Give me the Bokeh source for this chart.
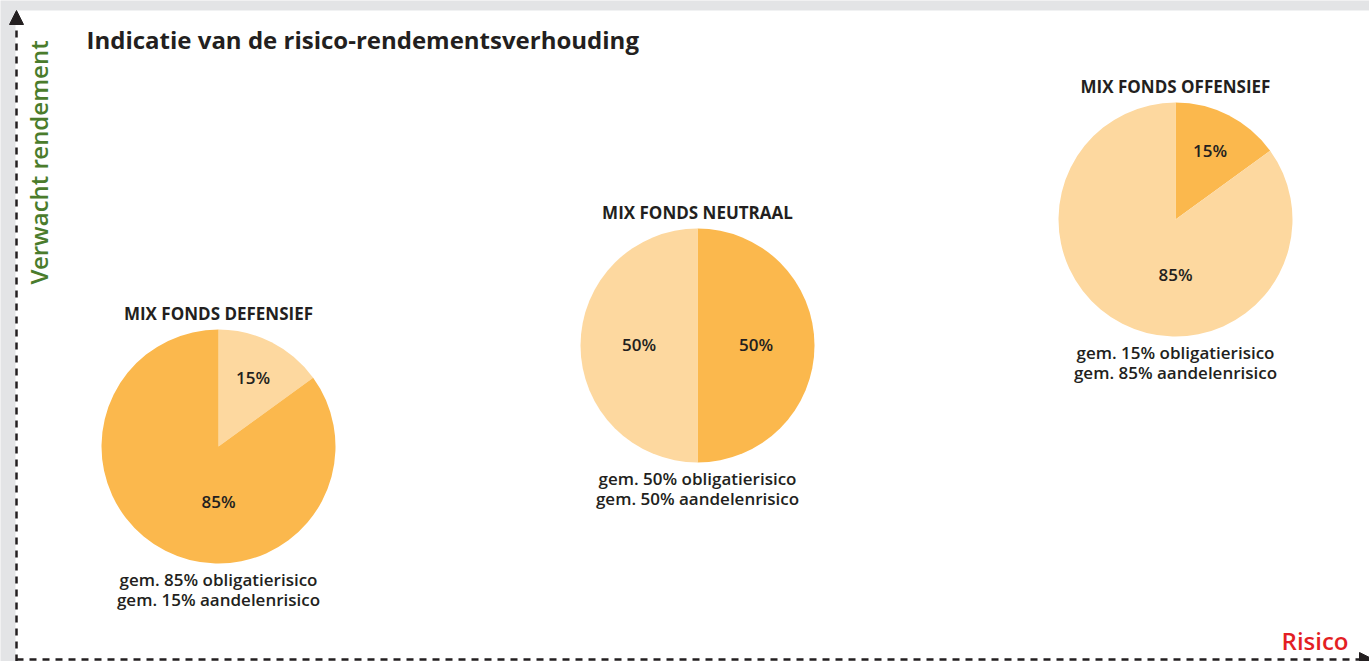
import math
from bokeh.plotting import figure
from bokeh.models import Range1d, Arrow, NormalHead
from bokeh.core.properties import value
from bokeh.embed import file_html
from bokeh.resources import INLINE

# ---- data ----
funds = ["MIX FONDS DEFENSIEF", "MIX FONDS NEUTRAAL", "MIX FONDS OFFENSIEF"]
obligatie = [85, 50, 15]
aandelen = [15, 50, 85]
title = "Indicatie van de risico-rendementsverhouding"
y_label = "Verwacht rendement"
x_label = "Risico"

# ---- layout / style ----
W, H = 1369, 661
SH = 7  # baseline correction for the svg text rendering
def Y(sy):
    return H - sy

centers_x = [218, 697, 1175]
centers_y = [446, 345, 219]
R = 117
C_OBL = "#fbb84d"
C_AAND = "#fdd89f"
TXT = "#231f20"
FONT = value("Open Sans")
FONT_MED = value("Open Sans SemiBold")
GRAY = "#e3e4e6"

p = figure(width=W, height=H, output_backend="svg", toolbar_location=None,
           x_range=Range1d(0, W), y_range=Range1d(0, H),
           min_border=0, background_fill_color=GRAY, border_fill_color=GRAY,
           outline_line_color=None)
p.axis.visible = False
p.grid.visible = False

# white panel
p.quad(left=[15], right=[W], top=[Y(10)], bottom=[0],
       fill_color="white", line_color=None)

for i, name in enumerate(funds):
    cx, cy = centers_x[i], Y(centers_y[i])
    slices = [(obligatie[i], C_OBL), (aandelen[i], C_AAND)]
    if aandelen[i] < obligatie[i]:
        slices = slices[::-1]
    start = math.pi / 2
    for val, col in slices:
        frac = val / 100.0
        end = start - 2 * math.pi * frac
        p.wedge(x=[cx], y=[cy], radius=R, start_angle=[end], end_angle=[start],
                direction="anticlock", fill_color=col, line_color=None)
        mid = (start + end) / 2
        if val > 50:
            mid = -math.pi / 2
            rr = 0.48 * R
        elif val == 50:
            rr = 0.5 * R
        else:
            rr = 0.65 * R
        p.text(x=[cx + rr * math.cos(mid)], y=[cy + rr * math.sin(mid) - 6 + SH],
               text=[f"{val}%"], text_align="center", text_baseline="alphabetic",
               text_font=FONT_MED, text_font_size="17px", text_font_style="normal",
               text_color=TXT)
        start = end
    p.text(x=[cx], y=[cy + R + 9 + SH], text=[name], text_align="center",
           text_baseline="alphabetic", text_font=FONT, text_font_size="17px",
           text_font_style="bold", text_color=TXT)
    p.text(x=[cx, cx], y=[cy - R - 23 + SH, cy - R - 43 + SH],
           text=[f"gem. {obligatie[i]}% obligatierisico",
                 f"gem. {aandelen[i]}% aandelenrisico"],
           text_align="center", text_baseline="alphabetic", text_font=FONT_MED,
           text_font_size="17px", text_font_style="normal", text_color=TXT)

# title and axis labels
p.text(x=[86], y=[Y(46) + SH], text=[title], text_align="left", text_baseline="alphabetic",
       text_font=FONT, text_font_size="24px", text_font_style="bold", text_color=TXT)
p.text(x=[38], y=[Y(284)], text=[y_label], angle=math.pi / 2, text_align="left",
       text_baseline="alphabetic", text_font=FONT_MED, text_font_size="24px",
       text_color="#4a7c2c")
p.text(x=[1348], y=[Y(649) + SH + 2], text=[x_label], text_align="right",
       text_baseline="alphabetic", text_font=FONT_MED, text_font_size="24px",
       text_color="#e31e24")

# dashed arrows
p.add_layout(Arrow(end=NormalHead(size=14, fill_color=TXT, line_color=TXT),
                   x_start=16, y_start=Y(661), x_end=16, y_end=Y(10),
                   line_color=TXT, line_width=2.5, line_dash="7 6"))
p.add_layout(Arrow(end=NormalHead(size=14, fill_color=TXT, line_color=TXT),
                   x_start=16, y_start=Y(659), x_end=1373, y_end=Y(659),
                   line_color=TXT, line_width=2.5, line_dash="7 6"))

html = file_html(p, INLINE)
html = html.replace("<body>", '<body style="margin:0;background:#e3e4e6">', 1)
open("out.html", "w").write(html)
